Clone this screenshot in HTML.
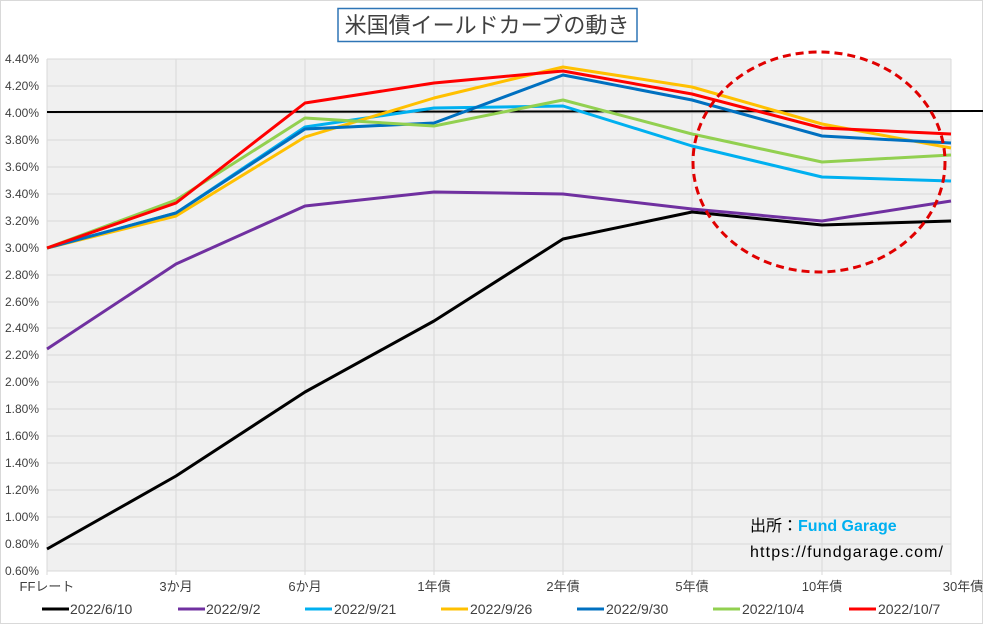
<!DOCTYPE html>
<html><head><meta charset="utf-8"><style>
body{margin:0;background:#fff}
svg text{font-family:"Liberation Sans","Noto Sans CJK JP",sans-serif}
</style></head><body>
<svg width="983" height="624" xmlns="http://www.w3.org/2000/svg">
<rect x="0.5" y="0.5" width="982" height="623" fill="#fff" stroke="#d9d9d9"/>
<rect x="47" y="59" width="904" height="512" fill="#f0f0f0"/>
<g stroke="#d9d9d9" stroke-width="1">
<line x1="47" x2="951" y1="59" y2="59"/><line x1="47" x2="951" y1="86" y2="86"/><line x1="47" x2="951" y1="113" y2="113"/><line x1="47" x2="951" y1="140" y2="140"/><line x1="47" x2="951" y1="167" y2="167"/><line x1="47" x2="951" y1="194" y2="194"/><line x1="47" x2="951" y1="221" y2="221"/><line x1="47" x2="951" y1="248" y2="248"/><line x1="47" x2="951" y1="275" y2="275"/><line x1="47" x2="951" y1="302" y2="302"/><line x1="47" x2="951" y1="328" y2="328"/><line x1="47" x2="951" y1="355" y2="355"/><line x1="47" x2="951" y1="382" y2="382"/><line x1="47" x2="951" y1="409" y2="409"/><line x1="47" x2="951" y1="436" y2="436"/><line x1="47" x2="951" y1="463" y2="463"/><line x1="47" x2="951" y1="490" y2="490"/><line x1="47" x2="951" y1="517" y2="517"/><line x1="47" x2="951" y1="544" y2="544"/><line x1="47" x2="951" y1="571" y2="571"/>
<line x1="47" x2="47" y1="59" y2="575"/><line x1="176" x2="176" y1="59" y2="575"/><line x1="305" x2="305" y1="59" y2="575"/><line x1="434" x2="434" y1="59" y2="575"/><line x1="563" x2="563" y1="59" y2="575"/><line x1="692" x2="692" y1="59" y2="575"/><line x1="822" x2="822" y1="59" y2="575"/><line x1="951" x2="951" y1="59" y2="575"/>
</g>
<g font-size="12" fill="#404040" text-anchor="end">
<text x="39" y="63">4.40%</text><text x="39" y="90">4.20%</text><text x="39" y="117">4.00%</text><text x="39" y="144">3.80%</text><text x="39" y="171">3.60%</text><text x="39" y="198">3.40%</text><text x="39" y="225">3.20%</text><text x="39" y="252">3.00%</text><text x="39" y="279">2.80%</text><text x="39" y="306">2.60%</text><text x="39" y="332">2.40%</text><text x="39" y="359">2.20%</text><text x="39" y="386">2.00%</text><text x="39" y="413">1.80%</text><text x="39" y="440">1.60%</text><text x="39" y="467">1.40%</text><text x="39" y="494">1.20%</text><text x="39" y="521">1.00%</text><text x="39" y="548">0.80%</text><text x="39" y="575">0.60%</text>
</g>
<g font-size="13" fill="#404040" text-anchor="middle">
<text x="47" y="591">FFレート</text><text x="176" y="591">3か月</text><text x="305" y="591">6か月</text><text x="434" y="591">1年債</text><text x="563" y="591">2年債</text><text x="692" y="591">5年債</text><text x="822" y="591">10年債</text><text x="963" y="591">30年債</text>
</g>
<line x1="47" x2="983" y1="112" y2="111" stroke="#000" stroke-width="2"/>
<g fill="none" stroke-width="3" stroke-linejoin="round">
<polyline stroke="#000" points="47,549 176,476 305,392 434,321 563,239 692,212 822,225 951,221"/>
<polyline stroke="#7030a0" points="47,349 176,264 305,206 434,192 563,194 692,209 822,221 951,201"/>
<polyline stroke="#00b0f0" points="47,248 176,213 305,127 434,108 563,106 692,146 822,177 951,181"/>
<polyline stroke="#ffc000" points="47,248 176,216 305,137 434,98 563,67 692,87 822,124 951,148"/>
<polyline stroke="#0070c0" points="47,248 176,213 305,129 434,123 563,75 692,100 822,136 951,143"/>
<polyline stroke="#92d050" points="47,248 176,200 305,118 434,126 563,100 692,134 822,162 951,155"/>
<polyline stroke="#ff0000" points="47,248 176,203 305,103 434,83 563,71 692,94 822,128 951,134"/>
</g>
<ellipse cx="819" cy="162" rx="126" ry="110" fill="none" stroke="#e00000" stroke-width="3" stroke-dasharray="8,5"/>
<rect x="338" y="8.5" width="299" height="33" fill="#fff" stroke="#2e75b6" stroke-width="1.5"/>
<text x="487" y="33" font-size="22" fill="#404040" text-anchor="middle">米国債イールドカーブの動き</text>
<text x="750" y="531" font-size="16" fill="#000">出所：<tspan fill="#00b0f0" font-weight="bold">Fund Garage</tspan></text>
<text x="750" y="557" font-size="16" fill="#000" textLength="193">https://fundgarage.com/</text>
<g font-size="14" fill="#404040">
<line x1="42" x2="69" y1="609" y2="609" stroke="#000" stroke-width="3"/><text x="70" y="614">2022/6/10</text>
<line x1="178" x2="205" y1="609" y2="609" stroke="#7030a0" stroke-width="3"/><text x="206" y="614">2022/9/2</text>
<line x1="305" x2="332" y1="609" y2="609" stroke="#00b0f0" stroke-width="3"/><text x="334" y="614">2022/9/21</text>
<line x1="441" x2="468" y1="609" y2="609" stroke="#ffc000" stroke-width="3"/><text x="470" y="614">2022/9/26</text>
<line x1="577" x2="604" y1="609" y2="609" stroke="#0070c0" stroke-width="3"/><text x="606" y="614">2022/9/30</text>
<line x1="713" x2="740" y1="609" y2="609" stroke="#92d050" stroke-width="3"/><text x="742" y="614">2022/10/4</text>
<line x1="849" x2="876" y1="609" y2="609" stroke="#ff0000" stroke-width="3"/><text x="878" y="614">2022/10/7</text>
</g>
</svg>
</body></html>
